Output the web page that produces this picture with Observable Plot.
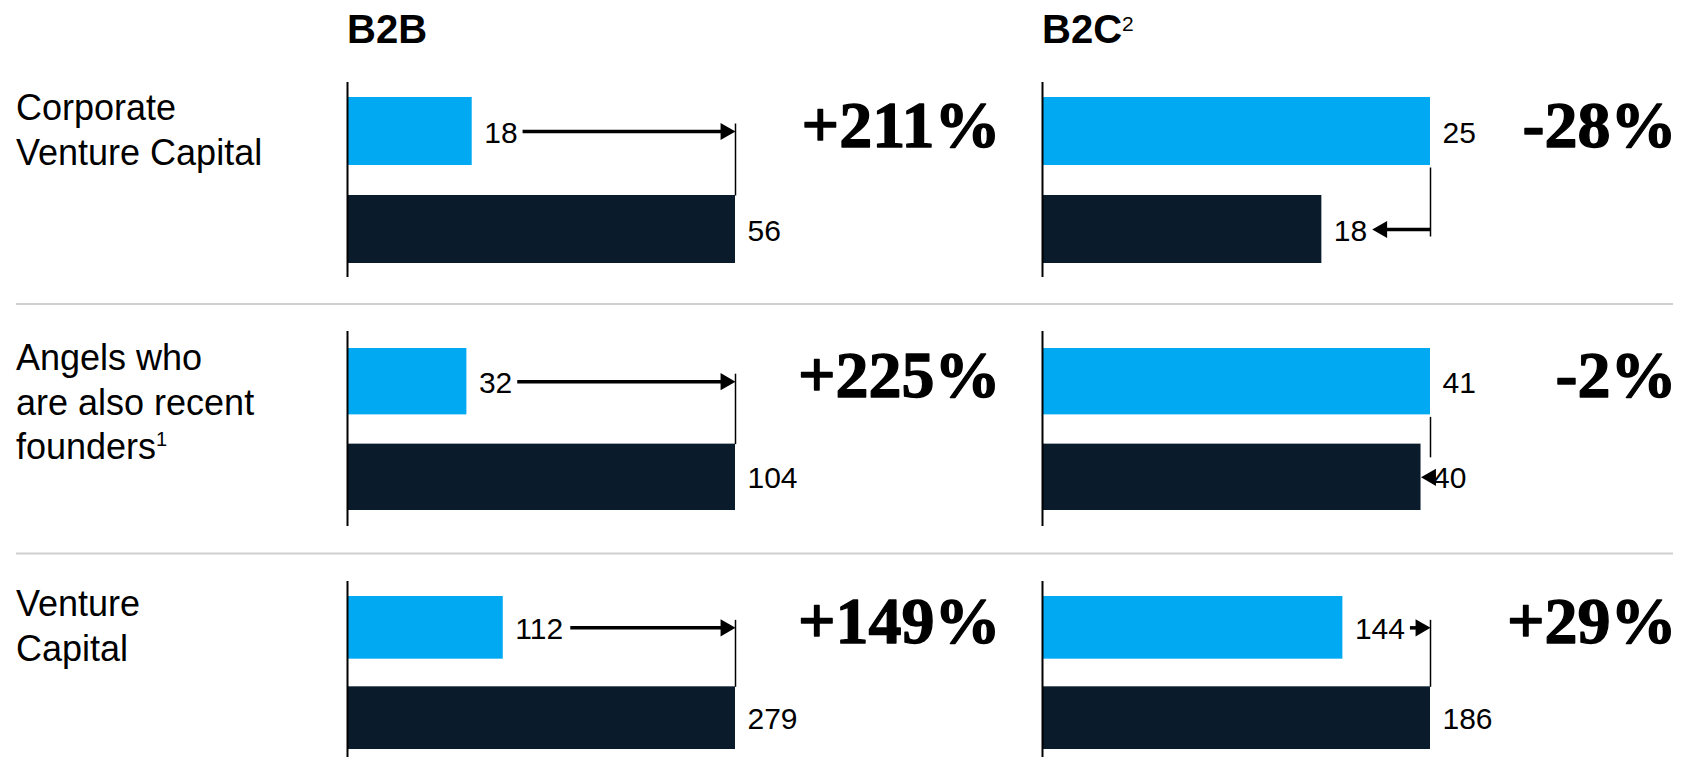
<!DOCTYPE html>
<html><head><meta charset="utf-8">
<script src="https://cdn.jsdelivr.net/npm/d3@7"></script>
<script src="https://cdn.jsdelivr.net/npm/@observablehq/plot@0.6"></script>
<style>
html,body{margin:0;padding:0;background:#fff;}
#chart{position:relative;width:1683px;height:757px;overflow:hidden;background:#fff;}
#chart svg{position:absolute;}
</style></head><body><div id="chart"></div>
<script>
// ---- data ----
const segments = ["B2B", "B2C"];
const segmentNotes = ["", "2"];
const investorLines = [["Corporate", "Venture Capital"], ["Angels who", "are also recent", "founders"], ["Venture", "Capital"]];
const investorNotes = ["", "1", ""];
const periods = ["before", "after"];
const b2bBefore = [18, 32, 112];
const b2bAfter = [56, 104, 279];
const b2cBefore = [25, 41, 144];
const b2cAfter = [18, 40, 186];
const b2bChange = ["+211%", "+225%", "+149%"];
const b2cChange = ["-28%", "-2%", "+29%"];

// ---- layout / style ----
const W = 1683, H = 757;
const LIGHT = "#00A9F2", DARK = "#0A1C2C";
const SANS = "'Liberation Sans', Arial, sans-serif";
const SERIF = "'Liberation Serif', 'Times New Roman', serif";
const axisX = [347, 1042];
const pctRight = [1000, 1676];
const barSpan = 388;
const PAD = 6;
const rowTop = [82, 331, 581];
const bandTop = [15, 17, 15], bandBottom = [181, 179, 168];
const panelH = 195;
const P_IN = 0.306;
const LABEL_FS = 30, LABEL_GAP = 12, DIGIT_W = 0.556 * LABEL_FS;
const HEAD_R = 6.4, HEAD_TIP = 1.555 * HEAD_R;

function bw(r) { const step = (bandBottom[r] - bandTop[r]) / (2 - P_IN); return step * (1 - P_IN); }

const root = d3.select("#chart");
const bg = root.append("svg").attr("width", W).attr("height", H).style("left", "0px").style("top", "0px");

// separators
for (let i = 0; i < 2; i++) {
  const y = (rowTop[i] + panelH + rowTop[i + 1]) / 2;
  bg.append("line").attr("x1", 16).attr("x2", 1673).attr("y1", y).attr("y2", y)
    .attr("stroke", "#D0D0D0").attr("stroke-width", 2);
}
// column titles
segments.forEach((s, c) => {
  const t = bg.append("text").attr("x", axisX[c]).attr("y", 43).attr("font-size", 40)
    .attr("font-weight", "bold").attr("font-family", SANS).attr("fill", "#000");
  t.append("tspan").text(s);
  if (segmentNotes[c]) t.append("tspan").attr("dy", -12).attr("font-size", 21).attr("font-weight", "normal").text(segmentNotes[c]);
});
// row labels
investorLines.forEach((lines, r) => {
  const lightCenter = rowTop[r] + bandTop[r] + bw(r) / 2;
  const t = bg.append("text").attr("font-size", 36).attr("font-family", SANS).attr("fill", "#000");
  lines.forEach((ln, i) => {
    t.append("tspan").attr("x", 16).attr("y", lightCenter - 11 + i * 44.5).text(ln);
    if (i === lines.length - 1 && investorNotes[r]) t.append("tspan").attr("dy", -13).attr("font-size", 20).text(investorNotes[r]);
  });
});

function panel(r, c) {
  const before = (c ? b2cBefore : b2bBefore)[r];
  const after = (c ? b2cAfter : b2bAfter)[r];
  const change = (c ? b2cChange : b2bChange)[r];
  const rows = [{period: "before", value: before}, {period: "after", value: after}];
  const max = Math.max(before, after);
  const increase = after > before;
  const half = bw(r) / 2;
  const labelW = v => String(v).length * DIGIT_W;
  const gapPx = Math.abs(after - before) * barSpan / max;
  const arrowPeriod = increase ? "before" : "after";
  const roomy = gapPx > LABEL_GAP + labelW(increase ? before : after) + 20;
  const tipOffset = (!increase && roomy) ? LABEL_GAP + labelW(after) + 5 : 0;
  const link = [{x1: before, x2: after}];
  const connX = increase ? after : before;
  const width = pctRight[c] - (axisX[c] - PAD);

  const marks = [
    // vertical connector
    Plot.arrow([connX], {
      x1: d => d, x2: d => d, y1: () => "before", y2: () => "after",
      headLength: 0, stroke: "#000", strokeWidth: 1.5, strokeLinecap: "butt",
      insetStart: increase ? -8 : half + 2,
      insetEnd: increase ? half : (roomy ? -7 : 20)
    }),
    Plot.barX(rows, {x: "value", y: "period", fill: "period"}),
    Plot.ruleX([0], {stroke: "#000", strokeWidth: 2}),
    // arrow shaft
    Plot.arrow(link, {
      x1: "x1", x2: "x2", y1: () => arrowPeriod, y2: () => arrowPeriod,
      headLength: 0, stroke: "#000", strokeWidth: 3.5, strokeLinecap: "butt",
      insetStart: increase ? LABEL_GAP + labelW(before) + 5 : 0,
      insetEnd: tipOffset + HEAD_TIP
    }),
    // arrow head
    Plot.dot(link, {
      x: "x2", y: () => arrowPeriod, symbol: "triangle", r: HEAD_R,
      rotate: increase ? 90 : -90, fill: "#000", stroke: "none",
      dx: increase ? -HEAD_TIP : tipOffset + HEAD_TIP
    }),
    // value labels
    Plot.text(rows, {
      x: "value", y: "period", text: d => String(d.value), textAnchor: "start",
      dx: LABEL_GAP, dy: 1.5, fontSize: LABEL_FS, fontFamily: SANS, fill: "#000"
    }),
    // percentage change
    Plot.text([change], {
      y: () => "before", text: d => d, frameAnchor: "right", textAnchor: "end",
      lineAnchor: "bottom", dy: 15, fontSize: 66, fontWeight: "bold", fontFamily: SERIF,
      fill: "#000", stroke: "#000", strokeWidth: 1.3, strokeLinejoin: "round"
    })
  ];

  const svg = Plot.plot({
    width, height: panelH,
    marginTop: 0, marginBottom: 0, marginLeft: PAD, marginRight: 0,
    x: {domain: [0, max], range: [PAD, PAD + barSpan], axis: null},
    y: {type: "band", domain: periods, range: [bandTop[r], bandBottom[r]], paddingInner: P_IN, paddingOuter: 0, round: false, axis: null},
    color: {domain: periods, range: [LIGHT, DARK]},
    style: {background: "transparent", overflow: "visible"},
    marks
  });
  svg.style.position = "absolute";
  svg.style.left = (axisX[c] - PAD) + "px";
  svg.style.top = rowTop[r] + "px";
  document.getElementById("chart").appendChild(svg);
}

for (let r = 0; r < 3; r++) for (let c = 0; c < 2; c++) panel(r, c);
</script>
</body></html>
